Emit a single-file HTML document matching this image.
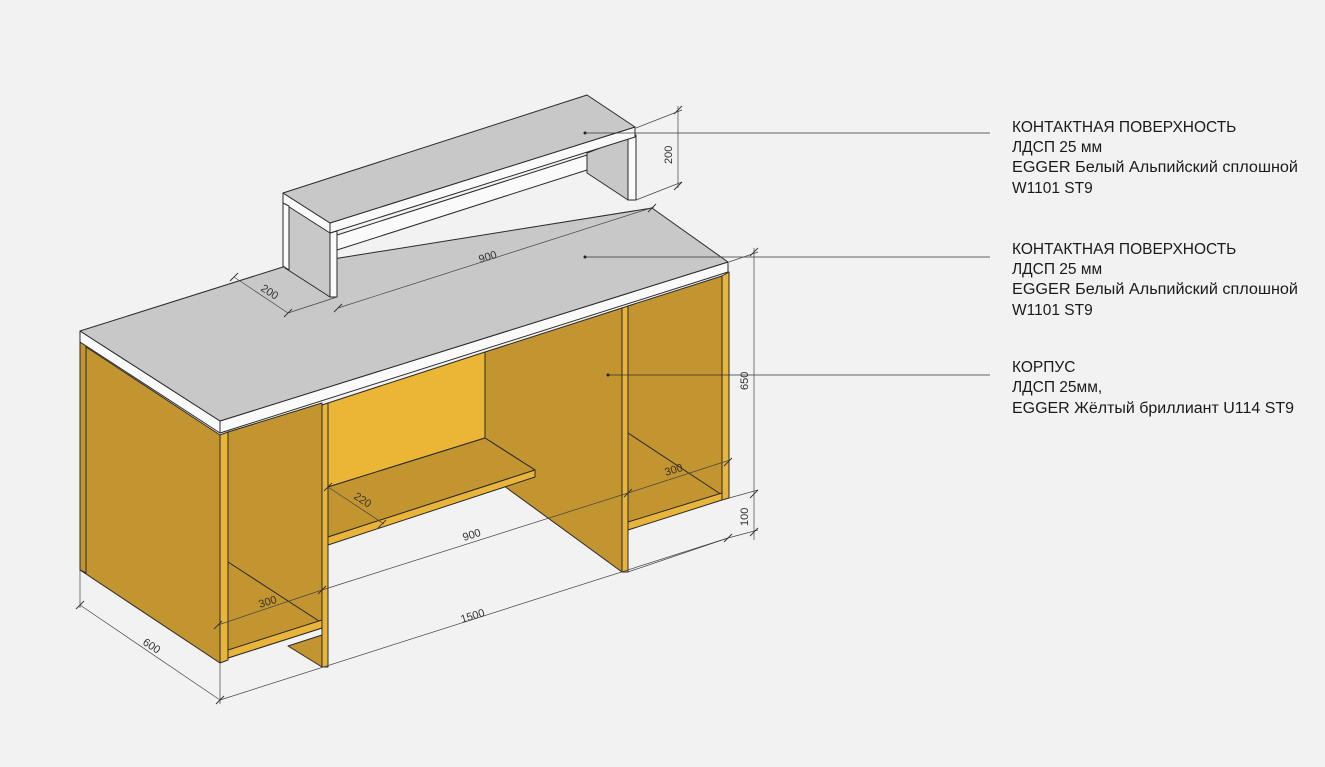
<!DOCTYPE html>
<html><head><meta charset="utf-8"><style>
html,body{margin:0;padding:0;background:#f1f2f1;}
svg{display:block}
.t{font-family:"Liberation Sans","DejaVu Sans",sans-serif;font-size:15.5px;fill:#1a1a1a}
.d{font-family:"Liberation Sans","DejaVu Sans",sans-serif;font-size:11px;fill:#333}
</style></head><body>
<svg width="1325" height="767" viewBox="0 0 1325 767" xmlns="http://www.w3.org/2000/svg">
<rect width="1325" height="767" fill="#f1f2f1"/>
<g stroke="#2a2a2a" stroke-width="1" stroke-linejoin="round">
<polygon points="80,343 220,435 220,663 80,570" fill="#c39530"/>
<polygon points="80,343 86,341 86,573 80,570" fill="#c39530"/>
<polygon points="228,432 322,403 322,628 228,658" fill="#c39530"/>
<polyline points="228,562 322,623" fill="none"/>
<polygon points="288,646 322,635 322,667" fill="#c39530"/>
<polygon points="228,650 322,620 322,628 228,658" fill="#e9b43a"/>
<polygon points="220,435 228,432 228,660 220,663" fill="#e9b43a"/>
<polygon points="328,403 485,352 485,438 328,487" fill="#ebb535"/>
<polygon points="485,352 622,308 622,572 500,483 535,477 535,470 485,438" fill="#c39530"/>
<polygon points="328,487 485,438 535,470 328,537" fill="#c39530"/>
<polygon points="328,537 535,470 535,477 328,545" fill="#e9b43a"/>
<polygon points="322,405 328,403 328,667 322,667" fill="#e9b43a"/>
<polygon points="628,306 722,276 722,495 628,522" fill="#c39530"/>
<polyline points="628,433 722,495" fill="none"/>
<polygon points="628,522 722,493 722,500 628,530" fill="#e9b43a"/>
<polygon points="622,308 628,306 628,572 622,572" fill="#e9b43a"/>
<polygon points="722,276 729,272 729,498 722,500" fill="#e9b43a"/>
<polygon points="80,331 220,421 220,433 80,342" fill="#fafafa"/>
<polygon points="220,421 728,262 728,272 220,433" fill="#fafafa"/>
<polygon points="80,331 283,267 652,208 728,262 220,421" fill="#c8c8c8"/>
<polygon points="285,200 330,232 330,297 285,268" fill="#c8c8c8"/>
<polygon points="337,235 587,155 587,170 337,250" fill="#fafafa"/>
<polygon points="587,153 628,137 628,200 587,173" fill="#c8c8c8"/>
<polygon points="330,233 337,231 337,297 330,297" fill="#fafafa"/>
<polygon points="628,137 636,135 636,200 628,200" fill="#fafafa"/>
<polygon points="283,193 330,223 330,233 283,203" fill="#fafafa"/>
<polygon points="283,203 289,206 289,270 283,266" fill="#fafafa"/>
<polygon points="330,223 635,127 635,137 330,233" fill="#fafafa"/>
<polygon points="283,193 587,95 635,127 330,223" fill="#c8c8c8"/>
</g>
<g stroke="#333" stroke-width="0.8" fill="none">
<line x1="585" y1="133" x2="990" y2="133"/>
<line x1="585" y1="257" x2="990" y2="257"/>
<line x1="608" y1="375" x2="990" y2="375"/>
</g>
<g fill="#222"><circle cx="585" cy="133" r="1.5"/><circle cx="585" cy="257" r="1.5"/><circle cx="608" cy="375" r="1.5"/></g>
<g stroke="#444" stroke-width="0.7" fill="none">
<line x1="636" y1="128" x2="682" y2="110"/><line x1="636" y1="200" x2="682" y2="182"/><line x1="678" y1="106" x2="678" y2="188"/>
<line x1="729" y1="262" x2="758" y2="252"/><line x1="754" y1="248" x2="754" y2="540"/>
<line x1="722" y1="500" x2="758" y2="490"/><line x1="728" y1="538" x2="758" y2="530"/>
<line x1="628" y1="493" x2="730" y2="460"/>
<line x1="322" y1="590" x2="628" y2="493"/>
<line x1="218" y1="625" x2="322" y2="590"/>
<line x1="220" y1="663" x2="220" y2="704"/><line x1="80" y1="570" x2="80" y2="608"/>
<line x1="220" y1="700" x2="728" y2="538"/>
<line x1="80" y1="605" x2="220" y2="700"/>
<line x1="328" y1="487" x2="384" y2="524"/>
<line x1="234" y1="277" x2="288" y2="313"/>
<line x1="288" y1="313" x2="337" y2="297"/>
<line x1="338" y1="308" x2="654" y2="207"/>
<line x1="628" y1="572" x2="728" y2="538"/>
</g>
<g stroke="#333" stroke-width="0.9">
<path d="M674,114l8,-8M674,190l8,-8M750,256l8,-8M750,498l8,-8M750,536l8,-8M624,497l8,-8M724,466l8,-8M318,594l8,-8M214,629l8,-8M216,704l8,-8M76,609l8,-8M724,542l8,-8M230,281l8,-8M284,317l8,-8M334,312l8,-8M648,212l8,-8M324,491l8,-8M378,528l8,-8"/>
</g>
<g class="d">
<text transform="translate(672,164) rotate(-90)">200</text>
<text transform="translate(748,390) rotate(-90)">650</text>
<text transform="translate(748,526) rotate(-90)">100</text>
<text transform="translate(666,476) rotate(-17.5)">300</text>
<text transform="translate(464,541) rotate(-17.5)">900</text>
<text transform="translate(260,608) rotate(-17.5)">300</text>
<text transform="translate(462,623) rotate(-17.5)">1500</text>
<text transform="translate(142,644) rotate(33)">600</text>
<text transform="translate(353,498) rotate(33)">220</text>
<text transform="translate(260,290) rotate(33)">200</text>
<text transform="translate(480,263) rotate(-17.5)">900</text>
</g>
<g class="t">
<text x="1012" y="132">КОНТАКТНАЯ ПОВЕРХНОСТЬ</text>
<text x="1012" y="152">ЛДСП 25 мм</text>
<text x="1012" y="172" textLength="286" lengthAdjust="spacingAndGlyphs">EGGER Белый Альпийский сплошной</text>
<text x="1012" y="193">W1101 ST9</text>
<text x="1012" y="254">КОНТАКТНАЯ ПОВЕРХНОСТЬ</text>
<text x="1012" y="274">ЛДСП 25 мм</text>
<text x="1012" y="294" textLength="286" lengthAdjust="spacingAndGlyphs">EGGER Белый Альпийский сплошной</text>
<text x="1012" y="315">W1101 ST9</text>
<text x="1012" y="372">КОРПУС</text>
<text x="1012" y="392">ЛДСП 25мм,</text>
<text x="1012" y="413" textLength="282" lengthAdjust="spacingAndGlyphs">EGGER Жёлтый бриллиант U114 ST9</text>
</g>
</svg>
</body></html>
